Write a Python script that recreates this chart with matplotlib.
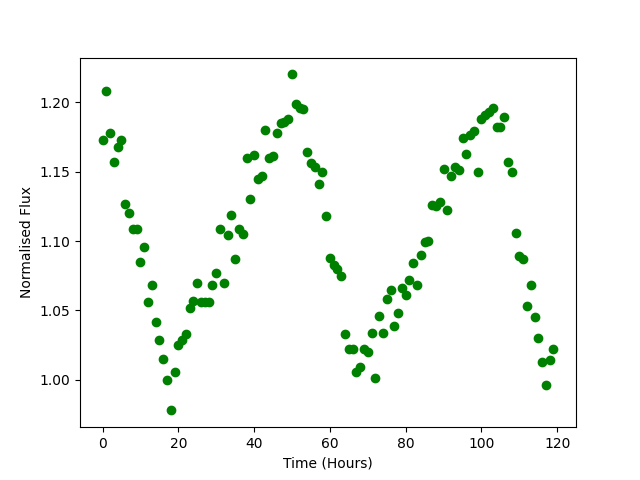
import numpy as np
import matplotlib
matplotlib.use('Agg')
import matplotlib.pyplot as plt

# hourly samples
time = np.arange(120)
flux = [1.173, 1.208, 1.178, 1.157, 1.168, 1.173, 1.127, 1.120, 1.109, 1.109,
        1.085, 1.096, 1.056, 1.068, 1.042, 1.029, 1.015, 1.000, 0.978, 1.006,
        1.025, 1.029, 1.033, 1.052, 1.057, 1.070, 1.056, 1.056, 1.056, 1.068,
        1.077, 1.109, 1.070, 1.104, 1.119, 1.087, 1.109, 1.105, 1.160, 1.130,
        1.162, 1.145, 1.147, 1.180, 1.160, 1.161, 1.178, 1.185, 1.186, 1.188,
        1.220, 1.199, 1.196, 1.195, 1.164, 1.156, 1.153, 1.141, 1.150, 1.118,
        1.088, 1.083, 1.080, 1.075, 1.033, 1.022, 1.022, 1.006, 1.009, 1.022,
        1.020, 1.034, 1.001, 1.046, 1.034, 1.058, 1.065, 1.039, 1.048, 1.066,
        1.061, 1.072, 1.084, 1.068, 1.090, 1.099, 1.100, 1.126, 1.125, 1.128,
        1.152, 1.122, 1.147, 1.153, 1.151, 1.174, 1.163, 1.176, 1.179, 1.150,
        1.188, 1.191, 1.193, 1.196, 1.182, 1.182, 1.189, 1.157, 1.150, 1.106,
        1.089, 1.087, 1.053, 1.068, 1.045, 1.030, 1.013, 0.996, 1.014, 1.022]

fig, ax = plt.subplots(figsize=(6.4, 4.8), dpi=100)
ax.plot(time, flux, 'o', color='green')
ax.set_xlabel('Time (Hours)')
ax.set_ylabel('Normalised Flux')
fig.savefig('out.png')
